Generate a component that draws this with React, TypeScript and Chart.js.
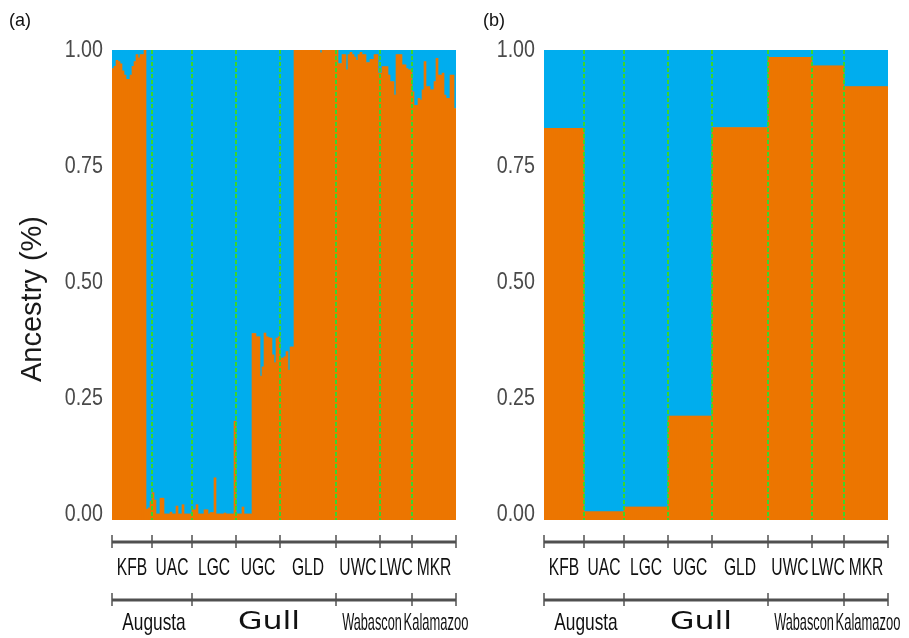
import React, { useEffect, useRef } from "react";
import { Chart, registerables } from "chart.js";

Chart.register(...registerables);

// ---------------- data ----------------
const populations = ["KFB", "UAC", "LGC", "UGC", "GLD", "UWC", "LWC", "MKR"];
const sampleCounts = [20, 20, 22, 22, 28, 22, 16, 22];
const rivers = ["Augusta", "Gull", "Wabascon", "Kalamazoo"];
const riverPopulationCounts = [2, 3, 2, 1];
const yTickValues = [0, 0.25, 0.5, 0.75, 1];

// individual orange-cluster ancestry (panel a)
const kfbOrange = [0.96, 0.965, 0.978, 0.975, 0.97, 0.955, 0.946, 0.937, 0.937, 0.946, 0.965, 0.975, 0.99, 0.983, 0.99, 0.99, 1.0, 0.01, 0.013, 0.027];
const uacOrange = [0.046, 0.03, 0, 0, 0.034, 0.034, 0, 0, 0, 0.004, 0, 0, 0.017, 0, 0, 0.02, 0, 0, 0, 0];
const lgcOrange = [0.009, 0.009, 0.02, 0, 0, 0, 0.009, 0.009, 0, 0.003, 0.003, 0.078, 0, 0, 0, 0, 0.002, 0, 0, 0, 0, 0.2];
const ugcOrange = [0, 0, 0, 0.015, 0, 0, 0, 0, 0.389, 0.389, 0.382, 0.382, 0.297, 0.317, 0.39, 0.382, 0.38, 0.379, 0.343, 0.326, 0.379, 0.382];
const gldOrange = [0.336, 0.336, 0.339, 0.35, 0.31, 0.36, 0.36, 1, 1, 1, 1, 1, 1, 1, 1, 1, 1, 1, 1, 1, 0.994, 1, 1, 1, 1, 1, 1, 1];
const uwcOrange = [1, 0.971, 0.971, 0.99, 0.99, 0.957, 0.99, 0.995, 0.99, 0.985, 0.978, 0.99, 0.995, 0.99, 0.99, 0.973, 0.973, 0.98, 0.98, 0.99, 0.99, 0.95];
const lwcOrange = [0.95, 0.964, 0.964, 0.964, 0.946, 0.932, 0.932, 0.903, 0.99, 0.99, 0.99, 0.968, 0.968, 0.96, 0.957, 0.957];
const mkrOrange = [0.91, 0.881, 0.881, 0.896, 0.892, 0.914, 0.975, 0.921, 0.921, 0.914, 0.914, 0.932, 0.982, 0.946, 0.946, 0.95, 0.903, 0.896, 0.896, 0.946, 0.946, 0.874];

// population-level orange-cluster ancestry (panel b)
const populationOrange = [0.831, 0.005, 0.015, 0.211, 0.833, 0.984, 0.966, 0.921];

const individualOrange = [
  ...kfbOrange, ...uacOrange, ...lgcOrange, ...ugcOrange,
  ...gldOrange, ...uwcOrange, ...lwcOrange, ...mkrOrange,
];
const populationOrangeBySample = sampleCounts.flatMap((n, k) => Array(n).fill(populationOrange[k]));

// ---------------- style ----------------
const ORANGE = "#EC7600";
const BLUE = "#00ADEE";
const GREEN = "#3AD62B";
const AXIS = "#505050";
const Y_FLOOR = -0.013;
const SANS = "'Liberation Sans', Arial, sans-serif";
const popLabelFont = `24px ${SANS}`;
const popLabelScale = 0.65;
const riverLabelStyle = [
  { font: `24px ${SANS}`, sx: 0.72, dx: 2 },
  { font: `24px 'DejaVu Sans', sans-serif`, sx: 1.32, dx: 5 },
  { font: `24px ${SANS}`, sx: 0.53, dx: -2 },
  { font: `24px ${SANS}`, sx: 0.54, dx: 2 },
];

function drawScaled(ctx: CanvasRenderingContext2D, text: string, x: number, y: number, sx: number) {
  ctx.save();
  ctx.translate(x, y);
  ctx.scale(sx, 1);
  ctx.fillText(text, 0, 0);
  ctx.restore();
}

const decorPlugin = {
  id: "decor",
  afterDraw(chart: any) {
    const o = chart.options.plugins.decor;
    const ctx: CanvasRenderingContext2D = chart.ctx;
    const a = chart.chartArea;
    const xs = chart.scales.x;
    const ys = chart.scales.y;
    const edge = (c: number) => xs.getPixelForValue(c - 0.5);
    const cum = [0];
    sampleCounts.forEach((n) => cum.push(cum[cum.length - 1] + n));
    const riverCum = [0];
    riverPopulationCounts.forEach((n) => riverCum.push(riverCum[riverCum.length - 1] + n));

    ctx.save();
    // population separators
    ctx.strokeStyle = GREEN;
    ctx.lineWidth = 2;
    ctx.setLineDash([4, 2]);
    for (let k = 1; k < cum.length - 1; k++) {
      const px = edge(cum[k]);
      ctx.beginPath();
      ctx.moveTo(px, a.top);
      ctx.lineTo(px, a.bottom);
      ctx.stroke();
    }
    ctx.setLineDash([]);

    // y tick labels
    ctx.fillStyle = "#4a4a4a";
    ctx.font = `24px ${SANS}`;
    ctx.textAlign = "right";
    ctx.textBaseline = "middle";
    yTickValues.forEach((v) => drawScaled(ctx, v.toFixed(2), a.left - 9, ys.getPixelForValue(v), 0.82));

    // panel label
    ctx.fillStyle = "#111";
    ctx.font = `19px ${SANS}`;
    ctx.textAlign = "center";
    drawScaled(ctx, o.panelLabel, o.panelLabelX, 21, 0.95);

    // y title
    if (o.showTitle) {
      ctx.save();
      ctx.translate(33, 299);
      ctx.rotate(-Math.PI / 2);
      ctx.font = `29px ${SANS}`;
      ctx.fillStyle = "#1a1a1a";
      ctx.textAlign = "center";
      ctx.textBaseline = "middle";
      ctx.fillText("Ancestry (%)", 0, 0);
      ctx.restore();
    }

    // bottom axis rows
    const drawRow = (bounds: number[], lineY: number) => {
      ctx.strokeStyle = AXIS;
      ctx.lineWidth = 3;
      ctx.beginPath();
      ctx.moveTo(edge(bounds[0]), lineY);
      ctx.lineTo(edge(bounds[bounds.length - 1]), lineY);
      ctx.stroke();
      ctx.lineWidth = 1.5;
      bounds.forEach((c) => {
        const px = edge(c);
        ctx.beginPath();
        ctx.moveTo(px, lineY - 7);
        ctx.lineTo(px, lineY + 6);
        ctx.stroke();
      });
    };
    const row1Y = a.bottom + 22;
    const row2Y = a.bottom + 80;
    drawRow(cum, row1Y);
    drawRow(riverCum.map((r) => cum[r]), row2Y);

    ctx.fillStyle = "#111";
    ctx.textAlign = "center";
    ctx.textBaseline = "middle";
    ctx.font = popLabelFont;
    populations.forEach((p, k) => {
      const cx = (edge(cum[k]) + edge(cum[k + 1])) / 2;
      drawScaled(ctx, p, cx, row1Y + 26, popLabelScale);
    });
    rivers.forEach((r, k) => {
      const cx = (edge(cum[riverCum[k]]) + edge(cum[riverCum[k + 1]])) / 2;
      const st = riverLabelStyle[k];
      ctx.font = st.font;
      drawScaled(ctx, r, cx + st.dx, row2Y + 23, st.sx);
    });
    ctx.restore();
  },
};

type PanelProps = {
  values: number[];
  panelLabel: string;
  panelLabelX: number;
  showTitle: boolean;
  left: number;
  width: number;
  padLeft: number;
  padRight: number;
};

function Panel({ values, panelLabel, panelLabelX, showTitle, left, width, padLeft, padRight }: PanelProps) {
  const ref = useRef<HTMLCanvasElement>(null);
  useEffect(() => {
    const barCommon = { grouped: false, categoryPercentage: 1, barPercentage: 1, borderWidth: 0 };
    const chart = new Chart(ref.current as HTMLCanvasElement, {
      type: "bar",
      data: {
        labels: values.map((_, i) => String(i + 1)),
        datasets: [
          { ...barCommon, label: "Cluster 1", data: values.map((v) => [Y_FLOOR, v]) as any, backgroundColor: ORANGE },
          { ...barCommon, label: "Cluster 2", data: values.map((v) => [v, 1]) as any, backgroundColor: BLUE },
        ],
      },
      options: {
        responsive: false,
        maintainAspectRatio: false,
        animation: false,
        devicePixelRatio: 1,
        layout: { padding: { left: padLeft, right: padRight, top: 50, bottom: 118 } },
        plugins: {
          legend: { display: false },
          tooltip: { enabled: false },
          decor: { panelLabel, panelLabelX, showTitle },
        } as any,
        scales: {
          x: { display: false },
          y: { display: false, min: Y_FLOOR, max: 1 },
        },
      },
      plugins: [decorPlugin],
    });
    return () => chart.destroy();
  }, []);
  return (
    <canvas
      ref={ref}
      width={width}
      height={638}
      style={{ position: "absolute", left, top: 0, width, height: 638 }}
    />
  );
}

export default function App() {
  return (
    <div style={{ position: "absolute", left: 0, top: 0, width: 909, height: 638, background: "#fff", overflow: "hidden" }}>
      <Panel values={individualOrange} panelLabel="(a)" panelLabelX={20} showTitle={true} left={0} width={470} padLeft={112} padRight={14} />
      <Panel values={populationOrangeBySample} panelLabel="(b)" panelLabelX={24} showTitle={false} left={470} width={439} padLeft={74} padRight={21} />
    </div>
  );
}
